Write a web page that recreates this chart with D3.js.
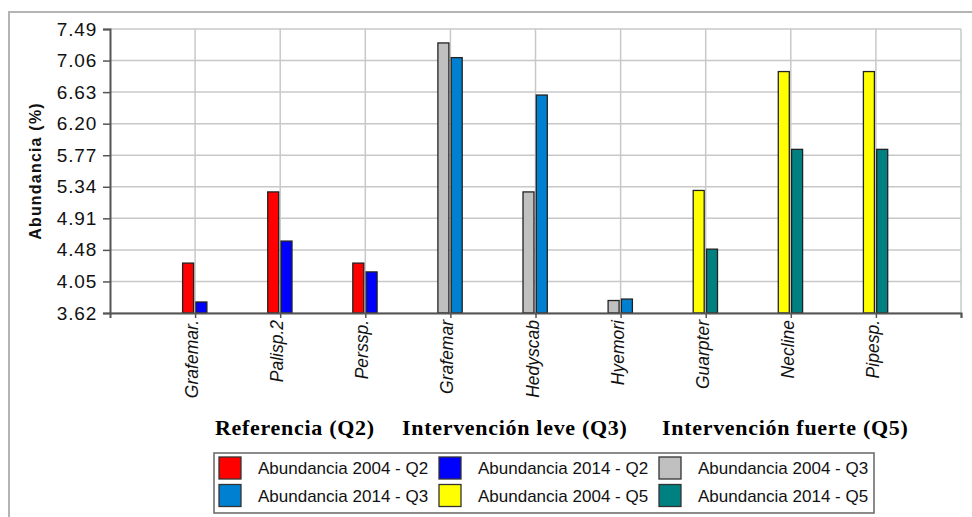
<!DOCTYPE html>
<html>
<head>
<meta charset="utf-8">
<script src="https://cdn.jsdelivr.net/npm/d3@7"></script>
<style>
  html, body { margin: 0; padding: 0; background: #fff; }
  svg { display: block; }
</style>
</head>
<body>
<svg id="chart" width="972" height="517"></svg>
<script>
// ---- data ----
const categories = ["Grafemar.", "Palisp.2", "Perssp.", "Grafemar", "Hedyscab", "Hyemori", "Guarpter", "Necline", "Pipesp."];
const groupOf    = ["Q2", "Q2", "Q2", "Q3", "Q3", "Q3", "Q5", "Q5", "Q5"];
const abund2004  = [4.30, 5.27, 4.30, 7.30, 5.27, 3.79, 5.29, 6.91, 6.91];
const abund2014  = [3.77, 4.60, 4.18, 7.10, 6.59, 3.81, 4.49, 5.85, 5.85];
const yTicks     = [3.62, 4.05, 4.48, 4.91, 5.34, 5.77, 6.20, 6.63, 7.06, 7.49];
const groupLabels = ["Referencia (Q2)", "Intervención leve (Q3)", "Intervención fuerte (Q5)"];
const legendLabels = ["Abundancia 2004 - Q2", "Abundancia 2014 - Q2", "Abundancia 2004 - Q3",
                      "Abundancia 2014 - Q3", "Abundancia 2004 - Q5", "Abundancia 2014 - Q5"];
const colors2004 = { Q2: "#ff0000", Q3: "#c0c0c0", Q5: "#ffff00" };
const colors2014 = { Q2: "#0000ff", Q3: "#0080d0", Q5: "#008080" };
const legendColors = [colors2004.Q2, colors2014.Q2, colors2004.Q3, colors2014.Q3, colors2004.Q5, colors2014.Q5];

// ---- layout ----
const svg = d3.select("#chart");
const L = 110, R = 961, T = 29, B = 313;

const x = d3.scaleLinear().domain([0, categories.length + 1]).range([L, R]);
const y = d3.scaleLinear().domain([3.62, 7.49]).range([B, T]);

// outer frame
svg.append("path")
  .attr("d", "M9,517 V12 H972")
  .attr("fill", "none").attr("stroke", "#b4b4b4").attr("stroke-width", 2);

// grid
const grid = svg.append("g");
grid.selectAll("line.h").data(yTicks).join("line")
  .attr("x1", L).attr("x2", R)
  .attr("y1", d => y(d)).attr("y2", d => y(d))
  .attr("stroke", "#c8c8c8").attr("stroke-width", 1.5);
const vIdx = d3.range(1, categories.length + 2);
grid.selectAll("line.v").data(vIdx).join("line")
  .attr("x1", d => x(d)).attr("x2", d => x(d))
  .attr("y1", T).attr("y2", B)
  .attr("stroke", "#c8c8c8").attr("stroke-width", 1.5);

// bars
const bw = 11;
const bars = svg.append("g");
bars.selectAll("rect.a").data(categories).join("rect")
  .attr("x", (d, i) => x(i + 1) - 12.5)
  .attr("y", (d, i) => y(abund2004[i]))
  .attr("width", bw)
  .attr("height", (d, i) => B - y(abund2004[i]))
  .attr("fill", (d, i) => colors2004[groupOf[i]])
  .attr("stroke", "#222").attr("stroke-width", 1.3);
bars.selectAll("rect.b").data(categories).join("rect")
  .attr("x", (d, i) => x(i + 1) + 0.8)
  .attr("y", (d, i) => y(abund2014[i]))
  .attr("width", bw)
  .attr("height", (d, i) => B - y(abund2014[i]))
  .attr("fill", (d, i) => colors2014[groupOf[i]])
  .attr("stroke", "#222").attr("stroke-width", 1.3);

// y axis
const yAxis = svg.append("g").attr("transform", `translate(${L},0)`)
  .call(d3.axisLeft(y).tickValues(yTicks).tickFormat(d3.format(".2f")).tickSize(7).tickPadding(6));
yAxis.select(".domain").attr("stroke", "#555").attr("stroke-width", 2);
yAxis.selectAll(".tick line").attr("stroke", "#555").attr("stroke-width", 1.5);
yAxis.selectAll(".tick text")
  .attr("font-family", "'Liberation Sans', Arial, sans-serif")
  .attr("font-size", 19).attr("letter-spacing", "0.8px").attr("fill", "#111");

// x axis
const xAxis = svg.append("g").attr("transform", `translate(0,${B})`)
  .call(d3.axisBottom(x).tickValues(vIdx).tickSize(5).tickFormat(""));
xAxis.select(".domain").attr("stroke", "#555").attr("stroke-width", 2);
xAxis.selectAll(".tick line").attr("stroke", "#555").attr("stroke-width", 1.5);

// category labels
svg.append("g").selectAll("text").data(categories).join("text")
  .attr("transform", (d, i) => `translate(${x(i + 1) + 3},${B + 7}) rotate(-90)`)
  .attr("text-anchor", "end")
  .attr("font-family", "'Liberation Sans', Arial, sans-serif")
  .attr("font-style", "italic")
  .attr("font-size", 17.5)
  .attr("fill", "#111")
  .text(d => d);

// y label
svg.append("text")
  .attr("transform", `translate(41,${(T + B) / 2}) rotate(-90)`)
  .attr("text-anchor", "middle")
  .attr("font-family", "'Liberation Sans', Arial, sans-serif")
  .attr("font-weight", "bold")
  .attr("font-size", 16)
  .attr("letter-spacing", "1.2px")
  .attr("fill", "#111")
  .text("Abundancia (%)");

// group labels
const groupX = [215, 402, 662];
svg.append("g").selectAll("text").data(groupLabels).join("text")
  .attr("x", (d, i) => groupX[i]).attr("y", 435)
  .attr("font-family", "'Liberation Serif', 'Times New Roman', serif")
  .attr("font-weight", "bold")
  .attr("font-size", 22)
  .attr("letter-spacing", "0.7px")
  .attr("fill", "#000")
  .text(d => d);

// legend
const lg = svg.append("g");
lg.append("rect").attr("x", 214).attr("y", 453).attr("width", 660).attr("height", 60)
  .attr("fill", "#fff").attr("stroke", "#666").attr("stroke-width", 1.5);
const items = lg.selectAll("g.item").data(legendLabels).join("g")
  .attr("transform", (d, i) => `translate(${219 + 220 * (i % 3)},${457 + 27.5 * Math.floor(i / 3)})`);
items.append("rect").attr("width", 22).attr("height", 22)
  .attr("fill", (d, i) => legendColors[i]).attr("stroke", "#333").attr("stroke-width", 1.3);
items.append("text").attr("x", 39).attr("y", 17)
  .attr("font-family", "'Liberation Sans', Arial, sans-serif")
  .attr("font-size", 17).attr("fill", "#111")
  .text(d => d);
</script>
</body>
</html>
